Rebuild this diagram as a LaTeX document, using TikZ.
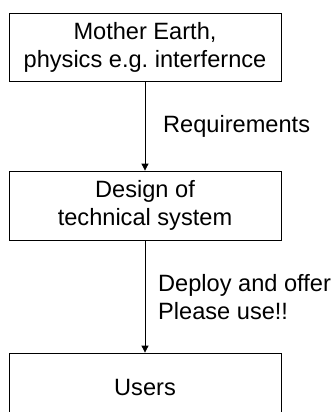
\documentclass[tikz,border=0pt]{standalone}
\usepackage{fontspec}
\setmainfont{Liberation Sans}
\usepackage{tikz}
\usetikzlibrary{arrows.meta}
\frenchspacing

\tikzset{
  box/.style={draw, line width=0.8pt, minimum width=272pt, minimum height=68pt,
    inner sep=0pt, align=center, font=\fontsize{23.6}{28}\selectfont},
  lbl/.style={inner sep=0pt, align=left, font=\fontsize{23.6}{28}\selectfont},
  flow/.style={line width=0.8pt, -{Triangle[length=7pt,width=7pt]}}
}

\begin{document}
\begin{tikzpicture}[x=1pt,y=-1pt]
    \useasboundingbox (0,0) rectangle (332,412);
    \clip (0,0) rectangle (332,412);
    \node[box] (earth) at (145,47) {Mother Earth,\\physics e.g. interfernce};
    \node[box, minimum height=69pt] (design) at (145,205.5) {Design of\\technical system};
    \node[box] (users) at (145,387) {Users};
    \draw[flow] (earth) -- (design);
    \draw[flow] (design) -- (users);
    \node[lbl, anchor=base west] (req) at (163,132) {Requirements};
    \node[lbl, anchor=north west] (deploy) at (158,274) {Deploy and offer\\Please use!!};
\end{tikzpicture}
\end{document}
